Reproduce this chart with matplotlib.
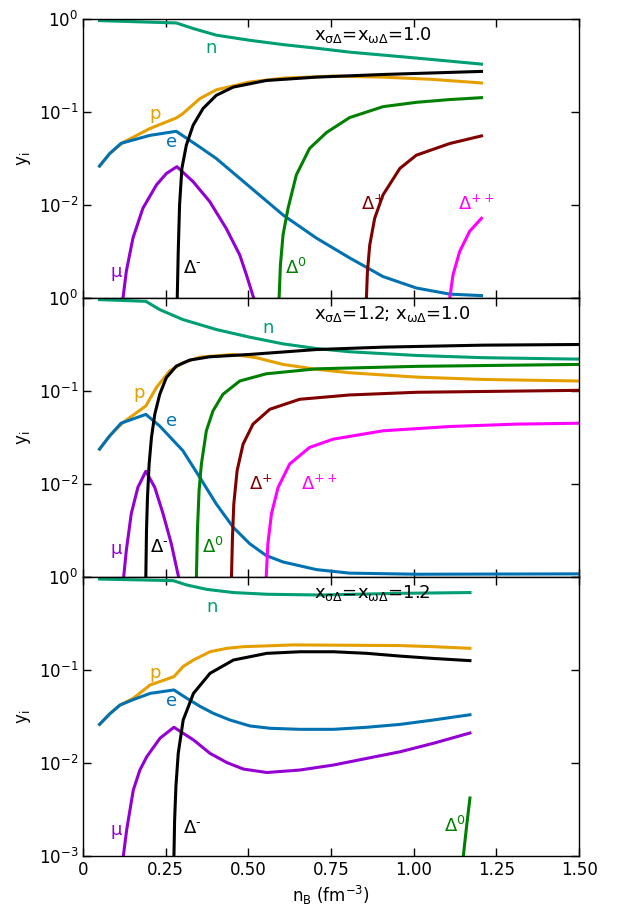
import matplotlib
matplotlib.use('Agg')
import matplotlib.pyplot as plt

plt.rcParams['font.family'] = ['DejaVu Sans']
plt.rcParams['mathtext.default'] = 'regular'
plt.rcParams['font.size'] = 12

# ---- panel 1: x_sigmaD = x_omegaD = 1.0 ----
n1_x = [0.05, 0.282, 0.333, 0.403, 0.504, 0.605, 0.706, 0.806, 1.008, 1.205]
n1_y = [0.96, 0.906, 0.79, 0.67, 0.59, 0.53, 0.485, 0.44, 0.38, 0.327]
p1_x = [0.05, 0.081, 0.121, 0.202, 0.282, 0.302, 0.353, 0.403, 0.504, 0.605, 0.756, 0.907, 1.058, 1.205]
p1_y = [0.0262, 0.0358, 0.047, 0.0663, 0.0862, 0.096, 0.139, 0.173, 0.21, 0.231, 0.243, 0.237, 0.224, 0.205]
e1_x = [0.05, 0.081, 0.115, 0.202, 0.282, 0.353, 0.403, 0.504, 0.605, 0.706, 0.806, 0.907, 1.008, 1.109, 1.205]
e1_y = [0.0262, 0.0358, 0.046, 0.056, 0.062, 0.042, 0.0316, 0.0157, 0.0078, 0.0044, 0.0027, 0.0017, 0.00128, 0.0011, 0.00106]
mu1_x = [0.121, 0.131, 0.151, 0.181, 0.222, 0.252, 0.284, 0.333, 0.383, 0.433, 0.474, 0.494, 0.516]
mu1_y = [0.001, 0.00193, 0.0044, 0.0092, 0.0164, 0.0218, 0.0258, 0.0178, 0.0109, 0.0056, 0.0029, 0.00178, 0.001]
dm1_x = [0.285, 0.288, 0.292, 0.299, 0.3125, 0.333, 0.363, 0.403, 0.454, 0.554, 0.706, 0.907, 1.205]
dm1_y = [0.001, 0.00316, 0.01, 0.0247, 0.044, 0.072, 0.109, 0.151, 0.185, 0.218, 0.237, 0.253, 0.273]
d01_x = [0.593, 0.597, 0.605, 0.62, 0.645, 0.685, 0.736, 0.806, 0.907, 1.008, 1.109, 1.205]
d01_y = [0.001, 0.00228, 0.0048, 0.0092, 0.021, 0.0405, 0.06, 0.087, 0.114, 0.127, 0.136, 0.1425]
dp1_x = [0.857, 0.86, 0.867, 0.882, 0.907, 0.958, 1.008, 1.109, 1.205]
dp1_y = [0.001, 0.0019, 0.0037, 0.0072, 0.0128, 0.0247, 0.0343, 0.0458, 0.0553]
dpp1_x = [1.109, 1.119, 1.139, 1.169, 1.205]
dpp1_y = [0.001, 0.00178, 0.00316, 0.0052, 0.0072]

# ---- panel 2: x_sigmaD = 1.2; x_omegaD = 1.0 ----
n2_x = [0.05, 0.19, 0.232, 0.302, 0.403, 0.504, 0.605, 0.706, 0.806, 1.008, 1.21, 1.5]
n2_y = [0.96, 0.92, 0.75, 0.586, 0.458, 0.379, 0.321, 0.286, 0.264, 0.241, 0.228, 0.22]
p2_x = [0.05, 0.081, 0.121, 0.19, 0.222, 0.262, 0.302, 0.353, 0.454, 0.524, 0.605, 0.706, 0.806, 1.008, 1.21, 1.5]
p2_y = [0.0237, 0.033, 0.0458, 0.069, 0.109, 0.164, 0.201, 0.231, 0.247, 0.228, 0.193, 0.171, 0.157, 0.141, 0.133, 0.128]
e2_x = [0.05, 0.081, 0.115, 0.19, 0.232, 0.302, 0.353, 0.403, 0.454, 0.504, 0.554, 0.605, 0.706, 0.806, 1.008, 1.5]
e2_y = [0.0237, 0.033, 0.045, 0.056, 0.042, 0.0228, 0.0118, 0.0061, 0.00343, 0.00228, 0.0017, 0.00145, 0.0012, 0.0011, 0.00107, 0.00108]
mu2_x = [0.123, 0.131, 0.146, 0.166, 0.19, 0.217, 0.242, 0.267, 0.289]
mu2_y = [0.001, 0.00193, 0.0048, 0.0092, 0.0137, 0.0092, 0.0048, 0.00228, 0.001]
dm2_x = [0.19, 0.192, 0.195, 0.2, 0.207, 0.217, 0.232, 0.252, 0.282, 0.323, 0.383, 0.504, 0.706, 0.907, 1.21, 1.5]
dm2_y = [0.001, 0.00316, 0.0072, 0.0164, 0.0316, 0.056, 0.092, 0.139, 0.185, 0.215, 0.233, 0.247, 0.279, 0.296, 0.311, 0.316]
d02_x = [0.343, 0.346, 0.351, 0.358, 0.373, 0.393, 0.423, 0.474, 0.554, 0.706, 1.008, 1.5]
d02_y = [0.001, 0.00316, 0.0085, 0.0164, 0.0373, 0.061, 0.092, 0.128, 0.153, 0.173, 0.184, 0.193]
dp2_x = [0.449, 0.452, 0.456, 0.466, 0.484, 0.514, 0.565, 0.655, 0.806, 1.008, 1.5]
dp2_y = [0.001, 0.0027, 0.0061, 0.0139, 0.0268, 0.044, 0.0636, 0.0814, 0.0906, 0.0968, 0.1016]
dpp2_x = [0.554, 0.559, 0.57, 0.59, 0.625, 0.685, 0.756, 0.907, 1.109, 1.31, 1.5]
dpp2_y = [0.001, 0.00228, 0.0048, 0.0092, 0.0164, 0.0247, 0.0303, 0.0373, 0.0415, 0.044, 0.045]

# ---- panel 3: x_sigmaD = x_omegaD = 1.2 ----
n3_x = [0.05, 0.273, 0.314, 0.374, 0.455, 0.556, 0.717, 0.959, 1.17]
n3_y = [0.95, 0.913, 0.82, 0.736, 0.68, 0.652, 0.64, 0.667, 0.68]
p3_x = [0.05, 0.082, 0.112, 0.152, 0.203, 0.275, 0.303, 0.334, 0.384, 0.435, 0.485, 0.636, 0.959, 1.06, 1.17]
p3_y = [0.026, 0.034, 0.042, 0.0496, 0.069, 0.0848, 0.109, 0.128, 0.157, 0.171, 0.178, 0.186, 0.183, 0.178, 0.171]
e3_x = [0.05, 0.082, 0.112, 0.152, 0.203, 0.275, 0.314, 0.354, 0.394, 0.444, 0.505, 0.566, 0.656, 0.757, 0.858, 0.959, 1.06, 1.17]
e3_y = [0.026, 0.034, 0.042, 0.048, 0.056, 0.061, 0.0496, 0.0406, 0.0342, 0.029, 0.025, 0.0236, 0.023, 0.023, 0.0242, 0.026, 0.029, 0.033]
mu3_x = [0.122, 0.132, 0.152, 0.172, 0.193, 0.233, 0.275, 0.334, 0.384, 0.435, 0.485, 0.556, 0.656, 0.757, 0.858, 0.959, 1.06, 1.17]
mu3_y = [0.001, 0.0019, 0.0051, 0.0084, 0.0117, 0.0185, 0.0242, 0.0177, 0.0127, 0.0101, 0.0086, 0.0079, 0.0084, 0.0095, 0.0112, 0.0132, 0.0163, 0.021]
dm3_x = [0.275, 0.277, 0.281, 0.288, 0.303, 0.334, 0.384, 0.455, 0.556, 0.656, 0.757, 0.858, 0.959, 1.06, 1.17]
dm3_y = [0.001, 0.0024, 0.0056, 0.0127, 0.029, 0.056, 0.092, 0.128, 0.151, 0.157, 0.157, 0.151, 0.141, 0.133, 0.126]
d03_x = [1.15, 1.16, 1.17]
d03_y = [0.001, 0.0021, 0.0042]

titles = [r'$x_{\sigma\Delta}$=$x_{\omega\Delta}$=1.0',
          r'$x_{\sigma\Delta}$=1.2; $x_{\omega\Delta}$=1.0',
          r'$x_{\sigma\Delta}$=$x_{\omega\Delta}$=1.2']

colors = {'n': '#009E73', 'p': '#E69F00', 'e': '#0072B2', 'mu': '#9400D3',
          'dm': 'black', 'd0': '#008000', 'dp': '#800000', 'dpp': '#FF00FF'}
names = {'n': 'n', 'p': 'p', 'e': 'e', 'mu': u'\u03bc',
         'dm': r'$\Delta^{\text{-}}$', 'd0': r'$\Delta^{0}$', 'dp': r'$\Delta^{+}$', 'dpp': r'$\Delta^{++}$'}

panels = [
    {'n': (n1_x, n1_y), 'p': (p1_x, p1_y), 'e': (e1_x, e1_y), 'mu': (mu1_x, mu1_y),
     'dm': (dm1_x, dm1_y), 'd0': (d01_x, d01_y), 'dp': (dp1_x, dp1_y), 'dpp': (dpp1_x, dpp1_y)},
    {'n': (n2_x, n2_y), 'p': (p2_x, p2_y), 'e': (e2_x, e2_y), 'mu': (mu2_x, mu2_y),
     'dm': (dm2_x, dm2_y), 'd0': (d02_x, d02_y), 'dp': (dp2_x, dp2_y), 'dpp': (dpp2_x, dpp2_y)},
    {'n': (n3_x, n3_y), 'p': (p3_x, p3_y), 'e': (e3_x, e3_y), 'mu': (mu3_x, mu3_y),
     'dm': (dm3_x, dm3_y), 'd0': (d03_x, d03_y)},
]

# label placement per panel: (x, y, ha)
label_pos = [
    {'n': (0.388, 0.485, 'center'), 'p': (0.217, 0.094, 'center'), 'e': (0.267, 0.048, 'center'),
     'mu': (0.1, 0.0019, 'center'), 'dm': (0.302, 0.0021, 'left'), 'd0': (0.61, 0.0021, 'left'),
     'dp': (0.842, 0.0102, 'left'), 'dpp': (1.135, 0.0102, 'left')},
    {'n': (0.559, 0.477, 'center'), 'p': (0.169, 0.096, 'center'), 'e': (0.267, 0.048, 'center'),
     'mu': (0.099, 0.002, 'center'), 'dm': (0.202, 0.0021, 'left'), 'd0': (0.361, 0.0021, 'left'),
     'dp': (0.501, 0.0100, 'left'), 'dpp': (0.66, 0.0100, 'left')},
    {'n': (0.389, 0.47, 'center'), 'p': (0.218, 0.093, 'center'), 'e': (0.268, 0.046, 'center'),
     'mu': (0.1, 0.0019, 'center'), 'dm': (0.301, 0.002, 'left'), 'd0': (1.092, 0.0021, 'left')},
]
title_y = [0.674, 0.674, 0.673]

fig, axes = plt.subplots(3, 1, figsize=(6.24, 9.21), dpi=100, sharex=True)
fig.subplots_adjust(left=0.133, right=0.928, top=0.9794, bottom=0.0706, hspace=0)

for i, ax in enumerate(axes):
    for key in ['n', 'p', 'e', 'mu', 'd0', 'dp', 'dpp', 'dm']:
        if key not in panels[i]:
            continue
        xs, ys = panels[i][key]
        ax.plot(xs, ys, color=colors[key], lw=2.2, solid_joinstyle='round')
        lx, ly, ha = label_pos[i][key]
        ax.text(lx, ly, names[key], color=colors[key], ha=ha, va='center', fontsize=13)
    ax.text(0.70, title_y[i], titles[i], ha='left', va='center', fontsize=13)

    ax.set_yscale('log')
    ax.set_ylim(1e-3, 1)
    ax.set_xlim(0, 1.5)
    ax.set_yticks([1e-3, 1e-2, 1e-1, 1])
    if i < 2:
        ax.set_yticklabels(['', r'$10^{-2}$', r'$10^{-1}$', r'$10^{0}$'])
    else:
        ax.set_yticklabels([r'$10^{-3}$', r'$10^{-2}$', r'$10^{-1}$', r'$10^{0}$'])
    ax.minorticks_off()
    ax.tick_params(direction='in', top=True, right=True, length=6, width=1, labelsize=12)
    ax.set_ylabel(r'$y_i$', fontsize=12)
    for s in ax.spines.values():
        s.set_linewidth(1)

axes[-1].set_xticks([0, 0.25, 0.5, 0.75, 1.0, 1.25, 1.5])
axes[-1].set_xticklabels(['0', '0.25', '0.50', '0.75', '1.00', '1.25', '1.50'])
axes[-1].set_xlabel(r'$n_B$ (fm$^{-3}$)', fontsize=12)

fig.savefig('out.png', dpi=100)
